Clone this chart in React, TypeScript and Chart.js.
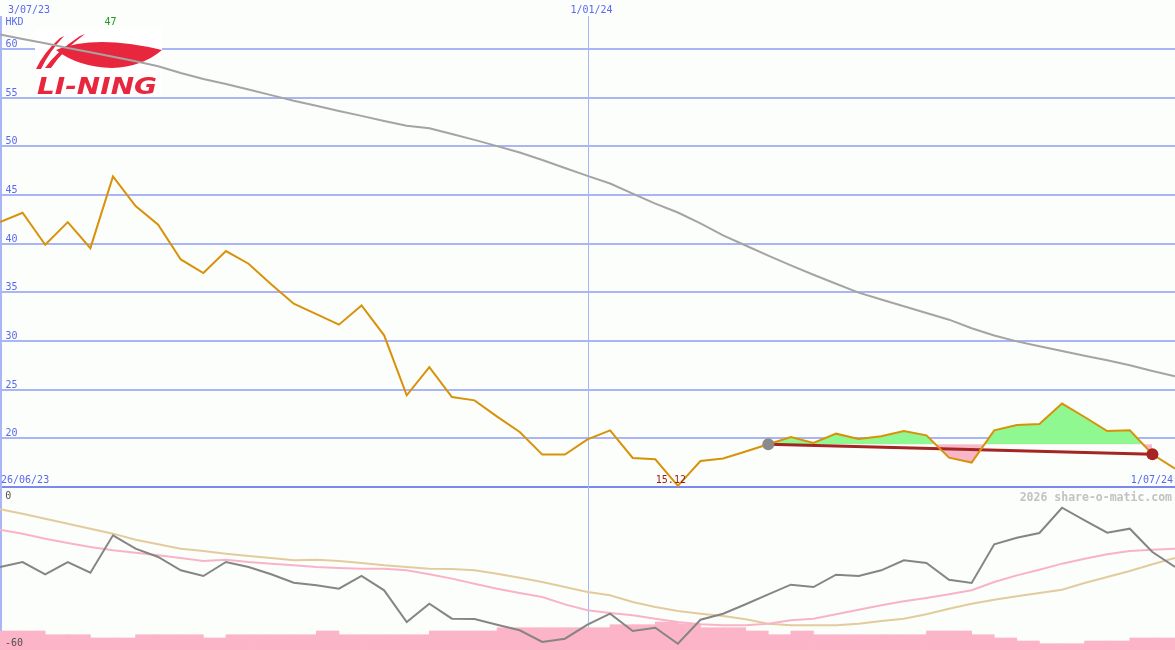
import React, { useEffect, useRef } from "react";
import { Chart, registerables } from "chart.js";

Chart.register(...registerables);

// ---------- data ----------
const weeks = [
  "3/07/23", "10/07/23", "17/07/23", "24/07/23", "31/07/23",
  "7/08/23", "14/08/23", "21/08/23", "28/08/23",
  "4/09/23", "11/09/23", "18/09/23", "25/09/23",
  "2/10/23", "9/10/23", "16/10/23", "23/10/23", "30/10/23",
  "6/11/23", "13/11/23", "20/11/23", "27/11/23",
  "4/12/23", "11/12/23", "18/12/23", "25/12/23",
  "1/01/24", "8/01/24", "15/01/24", "22/01/24", "29/01/24",
  "5/02/24", "12/02/24", "19/02/24", "26/02/24",
  "4/03/24", "11/03/24", "18/03/24", "25/03/24",
  "1/04/24", "8/04/24", "15/04/24", "22/04/24", "29/04/24",
  "6/05/24", "13/05/24", "20/05/24", "27/05/24",
  "3/06/24", "10/06/24", "17/06/24", "24/06/24",
  "1/07/24",
];

const price = [
  42.21, 43.18, 39.89, 42.21, 39.54, 46.91, 43.86, 41.95, 38.38, 36.98,
  39.24, 37.94, 35.82, 33.83, 32.77, 31.68, 33.66, 30.58, 24.42, 27.32,
  24.24, 23.9, 22.23, 20.65, 18.33, 18.33, 19.9, 20.82, 17.98, 17.85,
  15.12, 17.67, 17.92, 18.64, 19.39, 20.14, 19.52, 20.48, 19.93, 20.21,
  20.75, 20.31, 18.02, 17.51, 20.82, 21.37, 21.47, 23.57, 22.19, 20.75,
  20.82, 18.36, 16.89,
];

const movingAvg = [
  61.49, 61.03, 60.58, 60.11, 59.66, 59.2, 58.75, 58.23, 57.54, 56.91,
  56.4, 55.83, 55.26, 54.68, 54.16, 53.64, 53.13, 52.61, 52.12, 51.85,
  51.27, 50.66, 50.02, 49.37, 48.59, 47.78, 46.97, 46.18, 45.14, 44.12,
  43.2, 42.09, 40.85, 39.81, 38.77, 37.77, 36.81, 35.88, 34.97, 34.26,
  33.57, 32.88, 32.19, 31.31, 30.57, 29.96, 29.45, 28.98, 28.49, 28.02,
  27.51, 26.91, 26.37,
];

const oscGray = [
  -29.26, -27.41, -31.96, -27.41, -31.37, -17.52, -22.48, -25.56, -30.48, -32.59,
  -27.41, -29.26, -31.96, -35.07, -36.04, -37.3, -32.59, -37.89, -49.63, -42.85,
  -48.41, -48.52, -50.63, -52.7, -57.04, -55.81, -50.63, -46.56, -52.96, -51.74,
  -57.67, -48.78, -46.56, -43.07, -39.37, -35.81, -36.67, -32.11, -32.59, -30.48,
  -26.78, -27.78, -33.96, -35.19, -20.85, -18.41, -16.67, -7.3, -11.96, -16.56,
  -15.07, -23.7, -29.26,
];

const oscPink = [
  -15.43, -16.91, -18.77, -20.37, -21.85, -23.09, -23.95, -24.94, -25.93, -27.04,
  -26.54, -27.41, -28.02, -28.64, -29.26, -29.63, -29.88, -29.88, -30.49, -31.98,
  -33.57, -35.43, -37.28, -38.89, -40.37, -43.09, -45.31, -46.3, -47.16, -48.4,
  -49.63, -50.49, -50.86, -50.86, -50.25, -49.01, -48.4, -46.79, -45.06, -43.46,
  -41.98, -40.74, -39.38, -37.89, -34.81, -32.35, -30.25, -28.02, -26.17, -24.57,
  -23.33, -22.84, -22.47,
];

const oscTan = [
  -7.9, -9.51, -11.36, -13.21, -15.06, -16.91, -19.14, -20.86, -22.47, -23.33,
  -24.32, -25.19, -25.93, -26.79, -26.54, -27.04, -27.78, -28.64, -29.26, -29.88,
  -30.0, -30.49, -31.73, -33.21, -34.81, -36.67, -38.52, -39.75, -42.22, -44.07,
  -45.56, -46.54, -47.41, -48.64, -50.25, -50.86, -50.86, -50.86, -50.25, -49.26,
  -48.4, -46.79, -44.69, -42.84, -41.36, -40.12, -38.89, -37.65, -35.19, -32.96,
  -30.74, -28.27, -25.93,
];

const volume = [
  19, 19, 15.3, 15.3, 12, 12, 15.3, 15.3, 15.3, 12,
  15.3, 15.3, 15.3, 15.3, 19, 15.3, 15.3, 15.3, 15.3, 19,
  19, 19, 22.3, 22.3, 22.3, 22.3, 22.3, 25.3, 25.3, 28,
  26.3, 22.3, 22.3, 19, 15.3, 19, 15.3, 15.3, 15.3, 15.3,
  15.3, 19, 19, 15.3, 12, 9, 6.3, 6.3, 9, 9,
  12, 12,
];

const priceTicks = [15, 20, 25, 30, 35, 40, 45, 50, 55, 60];
const oscTicks = [0, -60];
const trendFrom = 34;
const trendTo = 51;
const yearMark = "1/01/24";
const periodStart = "26/06/23";
const currency = "HKD";
const brand = "LI-NING";
const credit = "2026 share-o-matic.com";

// ---------- layout / style ----------
const W = 1175;
const TOP_H = 488;
const BOT_H = 162;
const BG = "#fcfefb";
const MONO = '"DejaVu Sans Mono", monospace';
const GRID = "#a9b5f5";
const GRID_DARK = "#7b88ee";
const LABEL = "#5a68ee";

const xy = (arr: number[], start = 0) => arr.map((v, i) => ({ x: start + i, y: v }));

function drawLogo(ctx: CanvasRenderingContext2D) {
  ctx.save();
  ctx.fillStyle = "#ffffff";
  ctx.fillRect(35, 29, 127, 66);
  ctx.fillStyle = "#e8263d";
  // blades
  ctx.beginPath();
  ctx.moveTo(36, 69);
  ctx.quadraticCurveTo(44, 52, 60, 38);
  ctx.lineTo(64, 36);
  ctx.quadraticCurveTo(49, 52, 41, 69);
  ctx.closePath();
  ctx.fill();
  ctx.beginPath();
  ctx.moveTo(45, 68);
  ctx.quadraticCurveTo(57, 51, 80, 36);
  ctx.lineTo(85, 34);
  ctx.quadraticCurveTo(63, 50, 51, 68);
  ctx.closePath();
  ctx.fill();
  // wing
  ctx.beginPath();
  ctx.moveTo(56, 50);
  ctx.quadraticCurveTo(95, 34, 162, 50);
  ctx.quadraticCurveTo(142, 67, 112, 68);
  ctx.quadraticCurveTo(78, 67, 56, 50);
  ctx.closePath();
  ctx.fill();
  // word mark
  ctx.font = 'italic bold 23px "DejaVu Sans"';
  ctx.textBaseline = "alphabetic";
  ctx.textAlign = "left";
  const w = ctx.measureText(brand).width;
  ctx.translate(37, 94);
  ctx.scale(120 / w, 1);
  ctx.fillText(brand, 0, 0);
  ctx.restore();
}

const topPlugin = {
  id: "topDecor",
  beforeDatasetsDraw(chart: any) {
    const { ctx, chartArea, scales } = chart;
    const xs = scales.x;
    ctx.save();
    ctx.fillStyle = GRID;
    ctx.fillRect(0, 16, 2, chartArea.bottom - 16);
    const xm = Math.round(xs.getPixelForValue(weeks.indexOf(yearMark)));
    ctx.fillRect(xm, 16, 1, chartArea.bottom - 16);
    ctx.restore();
    drawLogo(ctx);
  },
  afterDatasetsDraw(chart: any) {
    const { ctx, scales } = chart;
    const xs = scales.x;
    const ys = scales.y;
    ctx.save();
    ctx.font = `10px ${MONO}`;
    ctx.textBaseline = "alphabetic";
    ctx.fillStyle = LABEL;
    ctx.textAlign = "left";
    priceTicks.forEach((v) => {
      if (v === priceTicks[0]) return;
      ctx.fillText(String(v), 5.5, Math.round(ys.getPixelForValue(v)) - 2);
    });
    ctx.fillText(weeks[0], 8, 13);
    ctx.fillText(currency, 5.5, 25);
    ctx.fillText(periodStart, 1, 483);
    const xm = Math.round(xs.getPixelForValue(weeks.indexOf(yearMark)));
    ctx.textAlign = "center";
    ctx.fillText(yearMark, xm + 3.5, 13);
    ctx.textAlign = "right";
    ctx.fillText(weeks[weeks.length - 1], 1173, 483);
    // max / min annotations
    const maxV = Math.max(...price);
    const iMax = price.indexOf(maxV);
    const minV = Math.min(...price);
    const iMin = price.indexOf(minV);
    ctx.textAlign = "center";
    ctx.fillStyle = "#1e9a1e";
    ctx.fillText(String(Math.round(maxV)), xs.getPixelForValue(iMax) - 2.5, 25);
    ctx.fillStyle = "#a01c1c";
    ctx.fillText(minV.toFixed(2), xs.getPixelForValue(iMin) - 7, 483);
    ctx.restore();
  },
};

const botPlugin = {
  id: "botDecor",
  beforeDatasetsDraw(chart: any) {
    const { ctx, chartArea, scales } = chart;
    const xs = scales.x;
    ctx.save();
    ctx.fillStyle = GRID;
    ctx.fillRect(0, 0, 2, chartArea.bottom);
    const xm = Math.round(xs.getPixelForValue(weeks.indexOf(yearMark)));
    ctx.fillRect(xm, 0, 1, chartArea.bottom);
    ctx.restore();
  },
  afterDatasetsDraw(chart: any) {
    const { ctx, scales } = chart;
    const ys = scales.y;
    ctx.save();
    ctx.font = `10px ${MONO}`;
    ctx.textBaseline = "alphabetic";
    ctx.textAlign = "left";
    ctx.fillStyle = "#505050";
    ctx.fillText(String(oscTicks[0]), 5.3, ys.getPixelForValue(oscTicks[0]) + 11);
    ctx.fillText(String(oscTicks[1]), 5, ys.getPixelForValue(oscTicks[1]) - 4);
    ctx.font = `bold 11.5px ${MONO}`;
    ctx.fillStyle = "#c2c2c2";
    ctx.textAlign = "right";
    ctx.fillText(credit, 1172, 12.7);
    ctx.restore();
  },
};

function topConfig(): any {
  const base = price[trendFrom];
  return {
    type: "line",
    data: {
      datasets: [
        {
          label: "markers",
          data: [
            { x: trendFrom, y: price[trendFrom] },
            { x: trendTo, y: price[trendTo] },
          ],
          showLine: false,
          pointRadius: 6,
          pointHoverRadius: 6,
          pointBorderWidth: 0,
          pointBackgroundColor: ["#8a8a8a", "#a82424"],
          pointBorderColor: ["#8a8a8a", "#a82424"],
          order: 0,
        },
        {
          label: "price",
          data: xy(price),
          borderColor: "#d8920a",
          borderWidth: 2,
          pointRadius: 0,
          order: 1,
        },
        {
          label: "trend",
          data: [
            { x: trendFrom, y: price[trendFrom] },
            { x: trendTo, y: price[trendTo] },
          ],
          borderColor: "#a52424",
          borderWidth: 3,
          pointRadius: 0,
          order: 2,
        },
        {
          label: "average",
          data: xy(movingAvg),
          borderColor: "#a4a4a4",
          borderWidth: 2,
          pointRadius: 0,
          order: 3,
        },
        {
          label: "band",
          data: xy(price.slice(trendFrom, trendTo + 1), trendFrom),
          borderColor: "transparent",
          borderWidth: 0,
          pointRadius: 0,
          fill: { target: { value: base }, above: "#90f890", below: "#f8b6c8" },
          order: 4,
        },
      ],
    },
    options: {
      animation: false,
      responsive: false,
      maintainAspectRatio: false,
      layout: { padding: 0, autoPadding: false },
      plugins: { legend: { display: false }, tooltip: { enabled: false } },
      elements: { line: { tension: 0 } },
      scales: {
        x: { type: "linear", min: 0, max: weeks.length - 1, display: false },
        y: {
          type: "linear",
          min: 14.897,
          max: 65.034,
          afterBuildTicks: (s: any) => {
            s.ticks = priceTicks.map((v) => ({ value: v }));
          },
          border: { display: false },
          grid: {
            drawTicks: false,
            lineWidth: 2,
            color: (c: any) => (c.tick && c.tick.value === priceTicks[0] ? GRID_DARK : GRID),
          },
          ticks: { display: false },
        },
      },
    },
    plugins: [topPlugin],
  };
}

function botConfig(): any {
  return {
    type: "line",
    data: {
      datasets: [
        {
          label: "relative",
          data: xy(oscGray),
          borderColor: "#858585",
          borderWidth: 2,
          pointRadius: 0,
          order: 1,
        },
        {
          label: "fast",
          data: xy(oscPink),
          borderColor: "#f9b3c9",
          borderWidth: 2,
          pointRadius: 0,
          order: 2,
        },
        {
          label: "slow",
          data: xy(oscTan),
          borderColor: "#e3cb9d",
          borderWidth: 2,
          pointRadius: 0,
          order: 3,
        },
        {
          type: "bar",
          label: "volume",
          yAxisID: "yv",
          data: volume.map((v, i) => ({ x: i + 0.5, y: v })),
          backgroundColor: "#fbb4c8",
          borderWidth: 0,
          barPercentage: 1,
          categoryPercentage: 1,
          order: 10,
        },
      ],
    },
    options: {
      animation: false,
      responsive: false,
      maintainAspectRatio: false,
      layout: { padding: 0, autoPadding: false },
      plugins: { legend: { display: false }, tooltip: { enabled: false } },
      elements: { line: { tension: 0 } },
      scales: {
        x: { type: "linear", min: 0, max: weeks.length - 1, display: false, offset: false },
        y: { type: "linear", min: -60, max: 0, display: false },
        yv: { type: "linear", min: 0, max: BOT_H, display: false },
      },
    },
    plugins: [botPlugin],
  };
}

export default function App() {
  const topRef = useRef<HTMLCanvasElement>(null);
  const botRef = useRef<HTMLCanvasElement>(null);

  useEffect(() => {
    const top = new Chart(topRef.current as HTMLCanvasElement, topConfig());
    const bot = new Chart(botRef.current as HTMLCanvasElement, botConfig());
    return () => {
      top.destroy();
      bot.destroy();
    };
  }, []);

  return (
    <div
      style={{
        position: "fixed",
        left: 0,
        top: 0,
        width: W,
        height: TOP_H + BOT_H,
        background: BG,
        overflow: "hidden",
      }}
    >
      <canvas
        ref={topRef}
        width={W}
        height={TOP_H}
        style={{ position: "absolute", left: 0, top: 0, width: W, height: TOP_H }}
      />
      <canvas
        ref={botRef}
        width={W}
        height={BOT_H}
        style={{ position: "absolute", left: 0, top: TOP_H, width: W, height: BOT_H }}
      />
    </div>
  );
}
